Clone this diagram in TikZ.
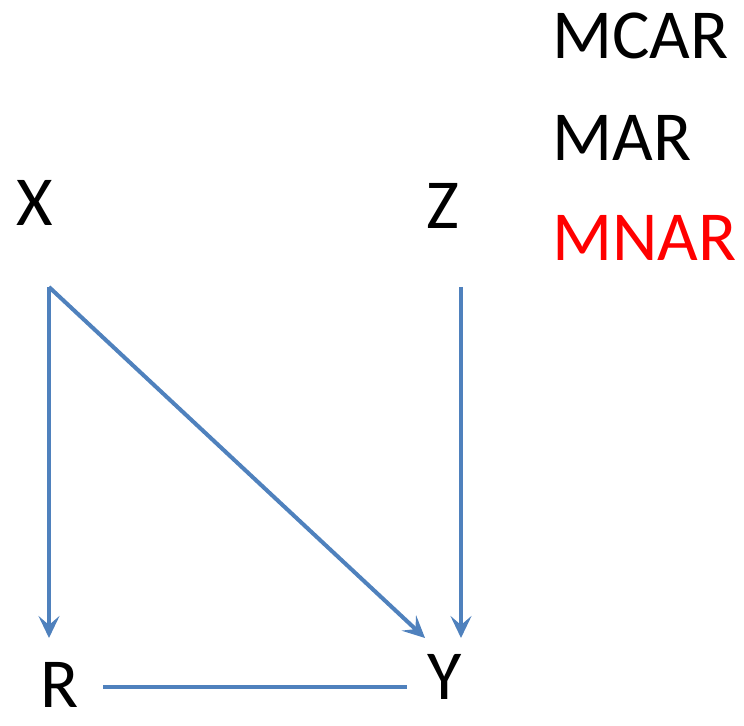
\documentclass[tikz,border=0pt]{standalone}
\usepackage{fontspec}
\setmainfont{Carlito}
\usetikzlibrary{arrows.meta}
\definecolor{edgeblue}{HTML}{4F81BD}
\definecolor{mnarred}{HTML}{FF0000}
\tikzset{
  var/.style={inner sep=0pt, font=\fontsize{40}{48}\selectfont},
  tag/.style={var, anchor=west},
  edge/.style={edgeblue, line width=2.3pt},
}
\begin{document}
\begin{tikzpicture}[x=0.02cm,y=-0.02cm,>={Stealth[length=0.44cm,width=0.42cm,inset=0.18cm]}]
\useasboundingbox (0,0) rectangle (744,726);
% variables
\node[var] (X) at (35,203) {X};
\node[var] (Z) at (443,206) {Z};
\node[var] (R) at (60,685) {R};
\node[var] (Y) at (445,677) {Y};
% missingness types
\node[tag] (mcar) at (552,36) {MCAR};
\node[tag] (mar) at (552,138) {MAR};
\node[tag,text=mnarred] (mnar) at (552,238) {MNAR};
% edge ends
\coordinate (xo) at (49,287);
\coordinate (zo) at (461,287);
\coordinate (ri) at (49,638);
\coordinate (yi) at (425,638);
\coordinate (yz) at (461,638);
\coordinate (ro) at (103,687);
\coordinate (yo) at (407,687);
\draw[edge,->] (xo)--(ri);
\draw[edge,->] (xo)--(yi);
\draw[edge,->] (zo)--(yz);
\draw[edge] (ro)--(yo);
\end{tikzpicture}
\end{document}
